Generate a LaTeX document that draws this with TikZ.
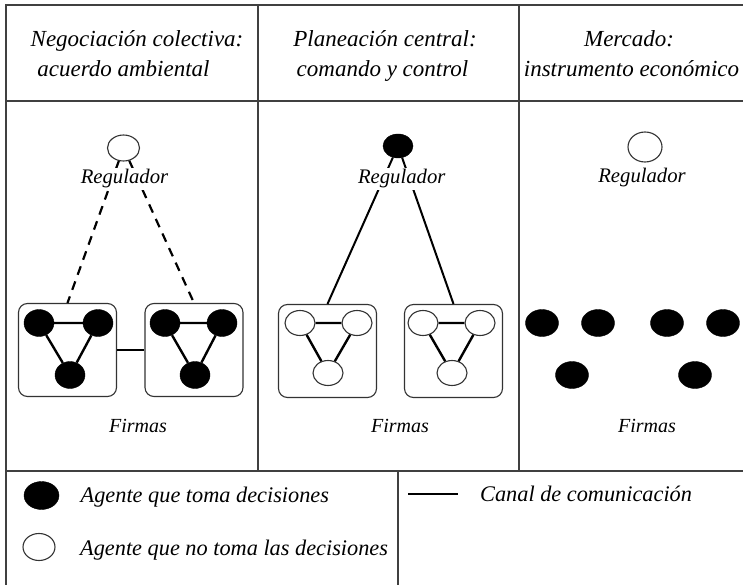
\documentclass[tikz,border=0pt]{standalone}
\usepackage{fontspec}
\setmainfont{Liberation Serif}
\usetikzlibrary{shapes.geometric}
\tikzset{
 gridline/.style={line width=1.6pt, draw=black!75},
 hdr/.style={font=\fontsize{23}{26}\selectfont\itshape, anchor=base, inner sep=0pt},
 lbl/.style={font=\fontsize{20.7}{24}\selectfont\itshape, anchor=base, fill=white, inner sep=1.5pt},
 firmlbl/.style={font=\fontsize{20}{24}\selectfont\itshape, anchor=base, inner sep=0pt},
 leg/.style={font=\fontsize{22.3}{26}\selectfont\itshape, anchor=base west, inner sep=0pt},
 bdot/.style={ellipse, fill=black, draw=black, minimum width=30pt, minimum height=27pt, inner sep=0pt},
 wdot/.style={ellipse, fill=white, draw=black!80, line width=1.1pt, minimum width=30pt, minimum height=25pt, inner sep=0pt},
 firm/.style={draw=black!80, line width=1.1pt, rounded corners=9pt, minimum width=98pt, minimum height=93pt, inner sep=0pt},
 link/.style={line width=2.4pt},
 dlink/.style={line width=2.2pt, dash pattern=on 9pt off 7pt},
}
\begin{document}
\begin{tikzpicture}[x=1pt,y=-1pt]
\useasboundingbox (0,0) rectangle (743,585);
\fill[white] (0,0) rectangle (743,585);
% grid
\coordinate (tl) at (5.7,5);
\coordinate (tr) at (745,5);
\coordinate (bl) at (5.7,587);
\coordinate (hl) at (5.7,101);
\coordinate (hr) at (745,101);
\coordinate (ll) at (5.7,471);
\coordinate (lr) at (745,471);
\coordinate (c1t) at (257.7,5);
\coordinate (c1b) at (257.7,471);
\coordinate (c2t) at (518.7,5);
\coordinate (c2b) at (518.7,471);
\coordinate (dvt) at (398,471);
\coordinate (dvb) at (398,587);
\draw[gridline] (tr) -- (tl) -- (bl);
\draw[gridline] (hl) -- (hr);
\draw[gridline] (ll) -- (lr);
\draw[gridline] (c1t) -- (c1b);
\draw[gridline] (c2t) -- (c2b);
\draw[gridline] (dvt) -- (dvb);
% headers
\node[hdr] (h1a) at (137,46.7) {Negociación colectiva:};
\node[hdr] (h1b) at (123.5,77) {acuerdo ambiental};
\node[hdr] (h2a) at (385,46.7) {Planeación central:};
\node[hdr] (h2b) at (382.5,77) {comando y control};
\node[hdr] (h3a) at (629,46.7) {Mercado:};
\node[hdr] (h3b) at (631.5,77) {instrumento económico};
% column 1
\node[wdot, minimum width=32pt, minimum height=26pt] (reg1) at (123.5,148) {};
\node[firm] (box1) at (67.5,350) {};
\node[firm] (box2) at (194,350) {};
\node[bdot] (a1) at (39,323) {};
\node[bdot] (a2) at (98,323) {};
\node[bdot] (a3) at (70,375) {};
\node[bdot] (b1) at (165,323) {};
\node[bdot] (b2) at (222,323) {};
\node[bdot] (b3) at (195,375) {};
\draw[link] (a1) -- (a2) (a1) -- (a3) (a2) -- (a3);
\draw[link] (b1) -- (b2) (b1) -- (b3) (b2) -- (b3);
\draw[link] (box1.east) -- (box2.west);
\draw[dlink] (reg1) -- (box1.north);
\draw[dlink] (reg1) -- (box2.north);
\node[lbl] (r1) at (124.5,184) {Regulador};
\node[firmlbl] (f1) at (138,432.7) {Firmas};
% column 2
\node[bdot, minimum width=30pt, minimum height=24pt] (reg2) at (398,146) {};
\node[firm] (box3) at (327.5,351) {};
\node[firm] (box4) at (453.5,351) {};
\node[wdot] (c1) at (300,323) {};
\node[wdot] (c2) at (357,323) {};
\node[wdot] (c3) at (328,373) {};
\node[wdot] (d1) at (423,323) {};
\node[wdot] (d2) at (480,323) {};
\node[wdot] (d3) at (452,373) {};
\draw[link] (c1) -- (c2) (c1) -- (c3) (c2) -- (c3);
\draw[link] (d1) -- (d2) (d1) -- (d3) (d2) -- (d3);
\draw[link, line width=2pt] (reg2) -- (box3.north);
\draw[link, line width=2pt] (reg2) -- (box4.north);
\node[lbl] (r2) at (401.7,184) {Regulador};
\node[firmlbl] (f2) at (400,432.7) {Firmas};
% column 3
\node[wdot, minimum width=34pt, minimum height=30pt] (reg3) at (645,147) {};
\node[lbl] (r3) at (642,183) {Regulador};
\node[bdot, minimum width=33pt] (e1) at (542,323) {};
\node[bdot, minimum width=33pt] (e2) at (598,323) {};
\node[bdot, minimum width=33pt] (e3) at (667,323) {};
\node[bdot, minimum width=33pt] (e4) at (723,323) {};
\node[bdot, minimum width=33pt] (e5) at (572,375) {};
\node[bdot, minimum width=33pt] (e6) at (695,375) {};
\node[firmlbl] (f3) at (647,432.7) {Firmas};
% legend
\node[bdot, minimum width=35pt, minimum height=28pt] (lg1) at (41.5,495.5) {};
\node[wdot, minimum width=32pt, minimum height=27pt] (lg2) at (39,547) {};
\node[leg] (t1) at (80.5,502) {Agente que toma decisiones};
\node[leg] (t2) at (80,555) {Agente que no toma las decisiones};
\coordinate (l1) at (408,494);
\coordinate (l2) at (458,494);
\draw[line width=2.7pt] (l1) -- (l2);
\node[leg] (t3) at (480,501) {Canal de comunicación};
\end{tikzpicture}
\end{document}
